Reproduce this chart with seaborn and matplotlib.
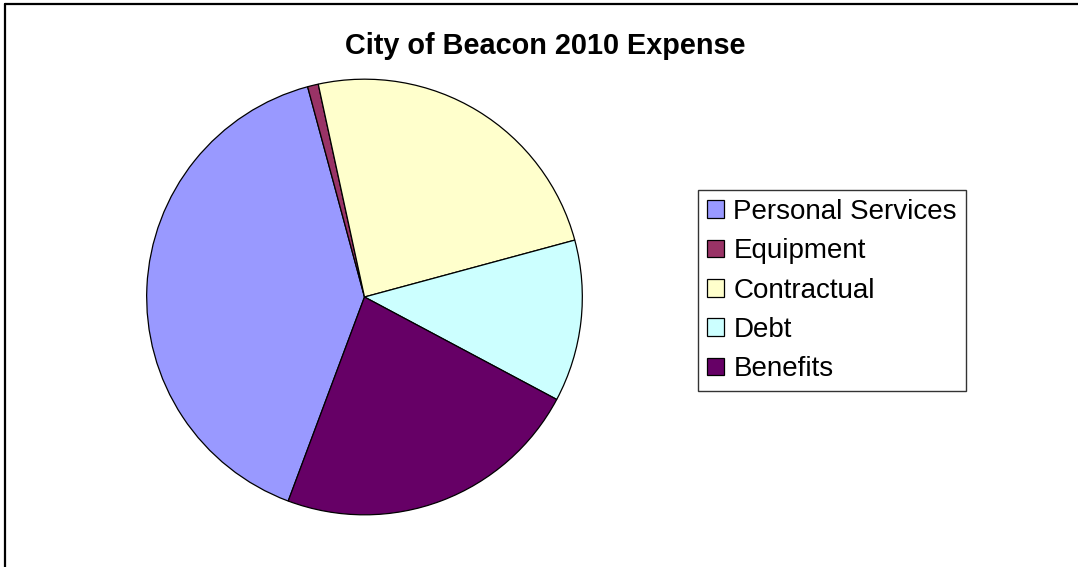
import matplotlib
matplotlib.use("Agg")
import matplotlib.pyplot as plt
from matplotlib.lines import Line2D
import seaborn as sns

# Expense shares (%)
categories = ["Personal Services", "Equipment", "Contractual", "Debt", "Benefits"]
shares = [40.1, 0.8, 24.2, 12.0, 22.9]
colors = ["#9999FF", "#993366", "#FFFFCC", "#CCFFFF", "#660066"]
title = "City of Beacon 2010 Expense"

sns.set_style("white")
plt.rcParams['font.family'] = ['Liberation Sans', 'DejaVu Sans']
plt.rcParams['text.color'] = 'black'

W, H = 1078, 567
fig = plt.figure(figsize=(W / 100, H / 100), dpi=100)
fig.patch.set_facecolor("white")

# pie placed with centre ~(364.5, 297) px and radius ~220 px
cx, cy, r = 364.5, 297, 220
ax = fig.add_axes([(cx - r) / W, (H - cy - r) / H, 2 * r / W, 2 * r / H])
wedges, _ = ax.pie(shares, colors=colors, startangle=-110.5, counterclock=False,
                   radius=1, wedgeprops=dict(edgecolor="black", linewidth=0.9))
ax.set_xlim(-1.01, 1.01)
ax.set_ylim(-1.01, 1.01)
ax.set_aspect("equal")
ax.axis("off")

fig.text(545 / W, 1 - 54 / H, title, ha="center", va="baseline",
         fontsize=20.8, fontweight="bold", color="black")

leg = fig.legend(wedges, categories, loc="upper left",
                 bbox_to_anchor=(698 / W, 1 - 190 / H), fontsize=20,
                 handlelength=0.6, handleheight=0.6, handletextpad=0.35,
                 labelspacing=0.48, borderpad=0.32, borderaxespad=0,
                 fancybox=False, frameon=True)
leg.get_frame().set_edgecolor("black")
leg.get_frame().set_linewidth(1.0)
for t in leg.get_texts():
    t.set_color("black")
for h in leg.legend_handles:
    h.set_edgecolor("black")
    h.set_linewidth(0.9)

# chart area border (top and left edges visible)
fig.add_artist(Line2D([4.5 / W, 1.0], [1 - 3.5 / H, 1 - 3.5 / H],
                      transform=fig.transFigure, color="black", linewidth=1.6))
fig.add_artist(Line2D([4.5 / W, 4.5 / W], [0.0, 1 - 3.5 / H],
                      transform=fig.transFigure, color="black", linewidth=1.6))

fig.savefig("out.png", dpi=100, facecolor="white")
